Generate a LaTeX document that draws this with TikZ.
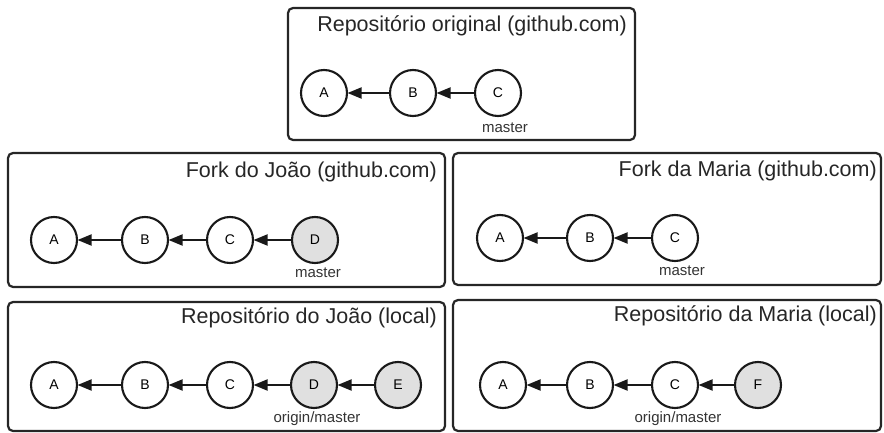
\documentclass[tikz,border=0pt]{standalone}
\usepackage{fontspec}
\setmainfont{Liberation Sans}
\usetikzlibrary{arrows.meta}
\begin{document}
\begin{tikzpicture}[x=1pt,y=-1pt,
  repobox/.style={draw=black!85, line width=2.2pt, rounded corners=5pt},
  commit/.style={circle, draw=black!90, line width=2.1pt, minimum size=46pt, inner sep=0pt, font=\fontsize{14}{16}\selectfont},
  newcommit/.style={commit, fill=black!12},
  parent/.style={draw=black!90, line width=2pt, -{Triangle[length=14pt,width=11pt]}, shorten >=-0.5pt},
  boxtitle/.style={font=\fontsize{21.5}{25}\selectfont, inner sep=0pt, text=black!85},
  branch/.style={font=\fontsize{15}{17}\selectfont, inner sep=0pt, text=black!80}]
\useasboundingbox (0,0) rectangle (884,433);
% top box
\draw[repobox] (288,8) rectangle (635,140);
\node[boxtitle, anchor=east] (t0) at (627,26) {Repositório original (github.com)};
\node[commit] (oA) at (324,93) {A};
\node[commit] (oB) at (413,93) {B};
\node[commit] (oC) at (498,93) {C};
\draw[parent] (oB) -- (oA);
\draw[parent] (oC) -- (oB);
\node[branch] (om) at (505,128) {master};
% fork joao
\draw[repobox] (8,153) rectangle (445,287);
\node[boxtitle, anchor=east] (t1) at (437,172) {Fork do João (github.com)};
\node[commit] (fjA) at (54,240) {A};
\node[commit] (fjB) at (145,240) {B};
\node[commit] (fjC) at (230,240) {C};
\node[newcommit] (fjD) at (315,240) {D};
\draw[parent] (fjB) -- (fjA);
\draw[parent] (fjC) -- (fjB);
\draw[parent] (fjD) -- (fjC);
\node[branch] (fjm) at (318,273) {master};
% fork maria
\draw[repobox] (453,153) rectangle (881,285);
\node[boxtitle, anchor=east] (t2) at (877,171) {Fork da Maria (github.com)};
\node[commit] (fmA) at (500,238) {A};
\node[commit] (fmB) at (590,238) {B};
\node[commit] (fmC) at (675,238) {C};
\draw[parent] (fmB) -- (fmA);
\draw[parent] (fmC) -- (fmB);
\node[branch] (fmm) at (682,271) {master};
% local joao
\draw[repobox] (8,302) rectangle (445,431);
\node[boxtitle, anchor=east] (t3) at (437,318) {Repositório do João (local)};
\node[commit] (ljA) at (54,385) {A};
\node[commit] (ljB) at (145,385) {B};
\node[commit] (ljC) at (230,385) {C};
\node[newcommit] (ljD) at (314,385) {D};
\node[newcommit] (ljE) at (398,385) {E};
\draw[parent] (ljB) -- (ljA);
\draw[parent] (ljC) -- (ljB);
\draw[parent] (ljD) -- (ljC);
\draw[parent] (ljE) -- (ljD);
\node[branch] (ljm) at (317,419) {origin/master};
% local maria
\draw[repobox] (453,300) rectangle (881,431);
\node[boxtitle, anchor=east] (t4) at (877,316) {Repositório da Maria (local)};
\node[commit] (lmA) at (503,385) {A};
\node[commit] (lmB) at (590,385) {B};
\node[commit] (lmC) at (675,385) {C};
\node[newcommit] (lmF) at (758,385) {F};
\draw[parent] (lmB) -- (lmA);
\draw[parent] (lmC) -- (lmB);
\draw[parent] (lmF) -- (lmC);
\node[branch] (lmm) at (678,419) {origin/master};
\end{tikzpicture}
\end{document}
